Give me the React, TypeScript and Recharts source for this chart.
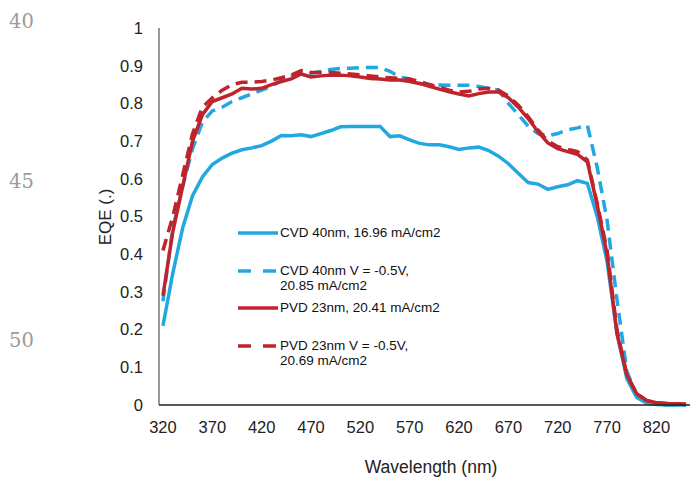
import { LineChart, Line, XAxis, YAxis, Legend } from 'recharts'

// wavelength grid (nm) and EQE for each device
const wavelengths = [
  320, 330, 340, 350, 360, 370, 380, 390, 400, 410, 420, 430, 440, 450, 460, 470, 480, 490,
  500, 510, 520, 530, 540, 550, 560, 570, 580, 590, 600, 610, 620, 630, 640, 650, 660, 670,
  680, 690, 700, 710, 720, 730, 740, 750, 760, 770, 780, 790, 800, 810, 820, 830, 840, 850,
]

const cvd = [
  0.21, 0.35, 0.47, 0.555, 0.605, 0.638, 0.655, 0.668, 0.677, 0.682, 0.688, 0.7, 0.715, 0.714,
  0.717, 0.712, 0.72, 0.728, 0.738, 0.739, 0.739, 0.739, 0.739, 0.712, 0.714, 0.703, 0.694, 0.69,
  0.69, 0.685, 0.678, 0.682, 0.684, 0.675, 0.66, 0.64, 0.615, 0.59, 0.586, 0.572, 0.579, 0.584,
  0.595, 0.588, 0.5, 0.38, 0.19, 0.07, 0.02, 0.005, 0.001, 0, 0, 0,
]

const cvdBias = [
  0.275, 0.47, 0.58, 0.68, 0.75, 0.78, 0.79, 0.805, 0.815, 0.825, 0.835, 0.845, 0.862, 0.872,
  0.88, 0.88, 0.885, 0.89, 0.893, 0.893, 0.895, 0.895, 0.895, 0.885, 0.87, 0.865, 0.853, 0.85,
  0.849, 0.848, 0.848, 0.848, 0.845, 0.84, 0.835, 0.8, 0.77, 0.74, 0.72, 0.714, 0.72, 0.73,
  0.735, 0.742, 0.63, 0.49, 0.28, 0.09, 0.025, 0.008, 0.003, 0, 0, 0,
]

const pvd = [
  0.29, 0.46, 0.58, 0.7, 0.77, 0.805, 0.815, 0.825, 0.84, 0.838, 0.84, 0.85, 0.858, 0.865,
  0.878, 0.87, 0.873, 0.875, 0.875, 0.873, 0.87, 0.866, 0.865, 0.862, 0.862, 0.858, 0.853, 0.845,
  0.838, 0.831, 0.825, 0.82, 0.826, 0.83, 0.83, 0.815, 0.79, 0.76, 0.725, 0.695, 0.68, 0.672,
  0.665, 0.645, 0.53, 0.4, 0.19, 0.08, 0.03, 0.012, 0.006, 0.004, 0.003, 0.002,
]

const pvdBias = [
  0.41, 0.5, 0.61, 0.72, 0.79, 0.815, 0.835, 0.85, 0.856, 0.856, 0.858, 0.862, 0.868, 0.875,
  0.887, 0.882, 0.882, 0.882, 0.88, 0.878, 0.876, 0.873, 0.87, 0.868, 0.866, 0.865, 0.858, 0.85,
  0.843, 0.835, 0.83, 0.832, 0.838, 0.84, 0.835, 0.82, 0.795, 0.765, 0.73, 0.7, 0.685, 0.678,
  0.672, 0.65, 0.535, 0.41, 0.2, 0.08, 0.03, 0.012, 0.006, 0.004, 0.003, 0.002,
]

const xTicks = [320, 370, 420, 470, 520, 570, 620, 670, 720, 770, 820]
const yTicks = [0, 0.1, 0.2, 0.3, 0.4, 0.5, 0.6, 0.7, 0.8, 0.9, 1]
const lineNumbers = ['40', '45', '50']

const BLUE = '#22a8e0'
const RED = '#c0232b'
const FONT = '"Liberation Sans", Arial, sans-serif'

const series = [
  { key: 'cvd', label: ['CVD 40nm, 16.96 mA/cm2'], color: BLUE, dash: undefined },
  { key: 'cvdBias', label: ['CVD 40nm V = -0.5V,', '20.85 mA/cm2'], color: BLUE, dash: '12 7' },
  { key: 'pvd', label: ['PVD 23nm, 20.41 mA/cm2'], color: RED, dash: undefined },
  { key: 'pvdBias', label: ['PVD 23nm V = -0.5V,', '20.69 mA/cm2'], color: RED, dash: '12 7' },
]

const data = wavelengths.map((wl, i) => ({
  wl,
  cvd: cvd[i],
  cvdBias: cvdBias[i],
  pvd: pvd[i],
  pvdBias: pvdBias[i],
}))

function LegendBox() {
  return (
    <div style={{ fontFamily: FONT, fontSize: 13.5, color: '#111', lineHeight: '14.5px' }}>
      {series.map((s, i) => (
        <div key={s.key} style={{ display: 'flex', alignItems: 'flex-start', height: i % 2 === 0 ? 38 : 37 }}>
          <svg width={42} height={14} style={{ flex: 'none' }}>
            <line
              x1={0} y1={7} x2={40} y2={7}
              stroke={s.color} strokeWidth={3.5}
              strokeDasharray={s.dash ? '13 12' : undefined}
            />
          </svg>
          <div>
            {s.label.map(t => <div key={t}>{t}</div>)}
          </div>
        </div>
      ))}
    </div>
  )
}

export default function App() {
  return (
    <div style={{ position: 'absolute', left: 0, top: 0, width: 692, height: 477, background: '#fff' }}>
      <svg width={60} height={477} style={{ position: 'absolute', left: 0, top: 0 }}>
        {lineNumbers.map((n, i) => (
          <text key={n} x={9} y={28 + i * 159.5} fill="#9b9b9b" fontSize={19.5} fontFamily='"DejaVu Serif", serif'>
            {n}
          </text>
        ))}
      </svg>
      <LineChart
        width={692}
        height={477}
        data={data}
        margin={{ top: 28, right: 2, bottom: 0, left: 0 }}
        style={{ position: 'absolute', left: 0, top: 0 }}
      >
        <XAxis
          dataKey="wl"
          type="number"
          domain={[316, 854]}
          ticks={xTicks}
          allowDataOverflow
          height={72}
          tickLine={false}
          tickSize={0}
          tickMargin={16}
          stroke="#222"
          strokeWidth={1.5}
          tick={{ fill: '#222', fontSize: 16.5, fontFamily: FONT }}
          label={{
            content: () => (
              <text x={431} y={473} textAnchor="middle" fill="#222" fontSize={17.5} fontFamily={FONT}>
                Wavelength (nm)
              </text>
            ),
          }}
        />
        <YAxis
          domain={[0, 1]}
          ticks={yTicks}
          width={159}
          tickLine={false}
          tickSize={0}
          tickMargin={16}
          stroke="#333"
          tickFormatter={v => String(Math.round(v * 10) / 10)}
          tick={{ fill: '#222', fontSize: 16.5, fontFamily: FONT }}
          label={{
            content: () => (
              <text
                x={111} y={217}
                transform="rotate(-90 111 217)"
                textAnchor="middle"
                fill="#222" fontSize={17} fontFamily={FONT}
              >
                EQE (.)
              </text>
            ),
          }}
        />
        <Legend
          layout="horizontal"
          verticalAlign="middle"
          align="center"
          wrapperStyle={{ left: 238, top: 226, width: 260 }}
          content={() => <LegendBox />}
        />
        {series.map(s => (
          <Line
            key={s.key}
            dataKey={s.key}
            type="linear"
            stroke={s.color}
            strokeWidth={3.5}
            strokeDasharray={s.dash}
            dot={false}
            activeDot={false}
            isAnimationActive={false}
          />
        ))}
      </LineChart>
    </div>
  )
}
